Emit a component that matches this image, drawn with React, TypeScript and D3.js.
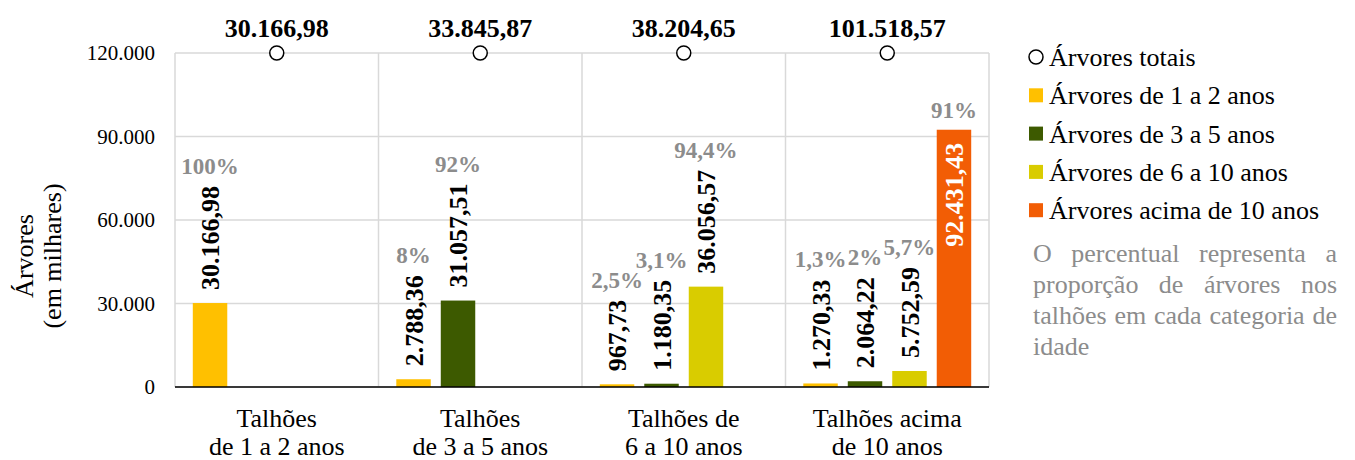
import * as d3 from "d3";

// categorias (talhões) e séries
const categorias = [
  ["Talhões", "de 1 a 2 anos"],
  ["Talhões", "de 3 a 5 anos"],
  ["Talhões de", "6 a 10 anos"],
  ["Talhões acima", "de 10 anos"],
];
const nomesSeries = [
  "Árvores de 1 a 2 anos",
  "Árvores de 3 a 5 anos",
  "Árvores de 6 a 10 anos",
  "Árvores acima de 10 anos",
];
const coresSeries = ["#FFC000", "#3D5A00", "#D9CC00", "#F25D05"];

const arv1a2 = [30166.98, 2788.36, 967.73, 1270.33];
const arv3a5 = [0, 31057.51, 1180.35, 2064.22];
const arv6a10 = [0, 0, 36056.57, 5752.59];
const arvAcima10 = [0, 0, 0, 92431.43];
const arvTotais = [30166.98, 33845.87, 38204.65, 101518.57];

const pct1a2 = ["100%", "8%", "2,5%", "1,3%"];
const pct3a5 = ["", "92%", "3,1%", "2%"];
const pct6a10 = ["", "", "94,4%", "5,7%"];
const pctAcima10 = ["", "", "", "91%"];

const yTicks = [0, 30000, 60000, 90000, 120000];
const yTitulo = ["Árvores", "(em milhares)"];
const legendaTotais = "Árvores totais";
const nota = [
  "O percentual representa a",
  "proporção de árvores nos",
  "talhões em cada categoria de",
  "idade",
];

const series = [arv1a2, arv3a5, arv6a10, arvAcima10];
const percentuais = [pct1a2, pct3a5, pct6a10, pctAcima10];

const FONT = "'Liberation Serif', 'Times New Roman', serif";
const GRID = "#D9D9D9";
const CINZA = "#8C8C8C";

const locale = d3.formatLocale({
  decimal: ",",
  thousands: ".",
  grouping: [3],
  currency: ["R$", ""],
});
const fmtTick = locale.format(",.0f");
const fmtValor = locale.format(",.2f");

const ctx = document.createElement("canvas").getContext("2d");
function larguraTexto(s: string, font: string) {
  if (!ctx) return s.length * 12;
  ctx.font = font;
  return ctx.measureText(s).width;
}

export default function App() {
  const width = 1355;
  const height = 460;
  const plot = { left: 175, right: 989, top: 53, bottom: 387 };

  const x0 = d3
    .scaleBand<number>()
    .domain(d3.range(categorias.length))
    .range([plot.left, plot.right])
    .padding(0);
  const x1 = d3
    .scaleBand<number>()
    .domain(d3.range(series.length))
    .range([0, x0.bandwidth()])
    .paddingInner(0.225)
    .paddingOuter(0.4);
  const y = d3
    .scaleLinear()
    .domain([0, d3.max(yTicks) as number])
    .range([plot.bottom, plot.top]);

  const fontValor = `bold 26px ${FONT}`;
  const gap = 13;

  const bordas = [...x0.domain().map((i) => x0(i) as number), plot.right];

  // legenda
  const legX = 1029;
  const legY0 = 57;
  const legStep = 38.3;

  // nota justificada
  const notaX = 1033;
  const notaW = 304;
  const notaY0 = 262;
  const notaStep = 31;
  const fontNota = `26px ${FONT}`;

  return (
    <svg
      width={width}
      height={height}
      style={{ position: "absolute", left: 0, top: 0, background: "#fff" }}
      fontFamily={FONT}
    >
      {/* grade */}
      {yTicks.map((t) => (
        <line
          key={`g${t}`}
          x1={plot.left}
          x2={plot.right}
          y1={y(t)}
          y2={y(t)}
          stroke={GRID}
          strokeWidth={1.5}
        />
      ))}
      {bordas.map((bx, i) => (
        <line
          key={`v${i}`}
          x1={bx}
          x2={bx}
          y1={plot.top}
          y2={plot.bottom}
          stroke={GRID}
          strokeWidth={1.5}
        />
      ))}

      {/* eixo y */}
      {yTicks.map((t) => (
        <text
          key={`t${t}`}
          x={155}
          y={y(t) + 7}
          textAnchor="end"
          fontSize={21}
          fill="#000"
        >
          {fmtTick(t)}
        </text>
      ))}
      <text
        transform={`translate(33, ${(plot.top + plot.bottom) / 2 + 36}) rotate(-90)`}
        textAnchor="middle"
        fontSize={26}
      >
        {yTitulo.map((l, i) => (
          <tspan key={i} x={0} y={i * 28}>
            {l}
          </tspan>
        ))}
      </text>

      {/* barras */}
      {series.map((serie, s) =>
        serie.map((v, c) => {
          if (!v) return null;
          const bx = (x0(c) as number) + (x1(s) as number);
          const cx = bx + x1.bandwidth() / 2;
          const top = y(v);
          const label = fmtValor(v);
          const w = larguraTexto(label, fontValor);
          const dentro = top - gap - w < plot.top;
          const pctY = dentro ? top - 12 : top - gap - w - 12;
          return (
            <g key={`b${s}-${c}`}>
              <rect
                x={bx}
                y={top}
                width={x1.bandwidth()}
                height={plot.bottom - top}
                fill={coresSeries[s]}
              />
              <text
                transform={`translate(${cx}, ${dentro ? top + gap : top - gap}) rotate(-90)`}
                dy="0.35em"
                textAnchor={dentro ? "end" : "start"}
                fontSize={26}
                fontWeight="bold"
                fill={dentro ? "#fff" : "#000"}
              >
                {label}
              </text>
              {percentuais[s][c] && (
                <text
                  x={cx}
                  y={pctY}
                  textAnchor="middle"
                  fontSize={23}
                  fontWeight="bold"
                  fill={CINZA}
                >
                  {percentuais[s][c]}
                </text>
              )}
            </g>
          );
        })
      )}

      {/* eixo x */}
      <line
        x1={plot.left}
        x2={plot.right}
        y1={plot.bottom}
        y2={plot.bottom}
        stroke="#000"
        strokeWidth={1.5}
      />
      {categorias.map((linhas, c) => (
        <text
          key={`c${c}`}
          x={(x0(c) as number) + x0.bandwidth() / 2}
          textAnchor="middle"
          fontSize={26}
        >
          {linhas.map((l, i) => (
            <tspan
              key={i}
              x={(x0(c) as number) + x0.bandwidth() / 2}
              y={plot.bottom + 40 + i * 28}
            >
              {l}
            </tspan>
          ))}
        </text>
      ))}

      {/* totais */}
      {arvTotais.map((v, c) => {
        const cx = (x0(c) as number) + x0.bandwidth() / 2;
        return (
          <g key={`tot${c}`}>
            <circle
              cx={cx}
              cy={y(y.domain()[1])}
              r={7}
              fill="#fff"
              stroke="#000"
              strokeWidth={1.5}
            />
            <text
              x={cx}
              y={y(y.domain()[1]) - 16}
              textAnchor="middle"
              fontSize={26}
              fontWeight="bold"
            >
              {fmtValor(v)}
            </text>
          </g>
        );
      })}

      {/* legenda */}
      <circle
        cx={legX + 7}
        cy={legY0}
        r={7}
        fill="#fff"
        stroke="#000"
        strokeWidth={1.5}
      />
      <text x={legX + 20} y={legY0 + 9} fontSize={26}>
        {legendaTotais}
      </text>
      {nomesSeries.map((n, i) => {
        const cy = legY0 + (i + 1) * legStep;
        return (
          <g key={`l${i}`}>
            <rect x={legX} y={cy - 7} width={14} height={14} fill={coresSeries[i]} />
            <text x={legX + 20} y={cy + 9} fontSize={26}>
              {n}
            </text>
          </g>
        );
      })}

      {/* nota */}
      {nota.map((linha, i) => {
        const ly = notaY0 + i * notaStep;
        const palavras = linha.split(" ");
        const ultima = i === nota.length - 1;
        if (ultima || palavras.length < 2) {
          return (
            <text key={`n${i}`} x={notaX} y={ly} fontSize={26} fill={CINZA}>
              {linha}
            </text>
          );
        }
        const larguras = palavras.map((p) => larguraTexto(p, fontNota));
        const espaco = (notaW - d3.sum(larguras)) / (palavras.length - 1);
        let px = notaX;
        return (
          <text key={`n${i}`} y={ly} fontSize={26} fill={CINZA}>
            {palavras.map((p, j) => {
              const xx = px;
              px += larguras[j] + espaco;
              return (
                <tspan key={j} x={xx}>
                  {p}
                </tspan>
              );
            })}
          </text>
        );
      })}
    </svg>
  );
}
